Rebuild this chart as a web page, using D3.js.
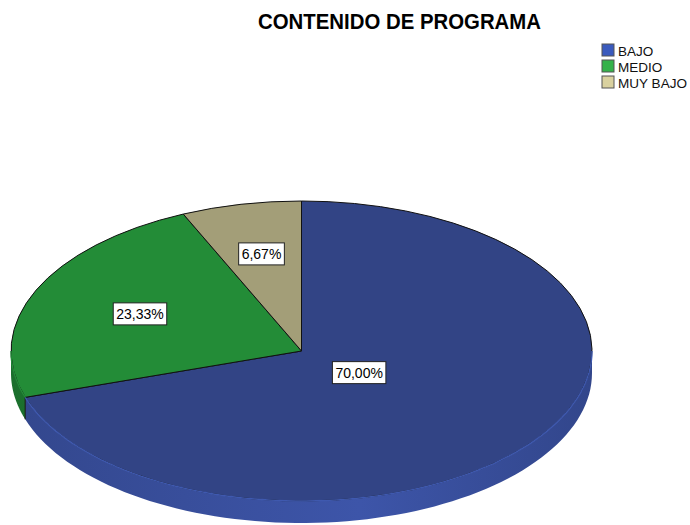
<!DOCTYPE html>
<html>
<head>
<meta charset="utf-8">
<script src="https://cdn.jsdelivr.net/npm/d3@7"></script>
<style>
  body { margin: 0; background: #fff; }
  svg { display: block; font-family: "Liberation Sans", Arial, sans-serif; }
</style>
</head>
<body>
<svg id="canvas" width="690" height="525"></svg>
<script>
let categories = ['BAJO', 'MEDIO', 'MUY BAJO'];
let percents = [70.00, 23.33, 6.67];
let percentLabels = ['70,00%', '23,33%', '6,67%'];
let topColors = ['#324485', '#238c37', '#a39e78'];
let sideColors = ['#3a51a0', '#1f7e33', '#8f8a66'];
let legendColors = ['#3a5abd', '#35b24a', '#d9d19f'];

let canvas = d3.select('#canvas');

let cx = 301.5, cy = 351, rx = 290.5, ry = 150, depth = 22;

let pie = d3.pie().sort(null).value((d) => d.value);
let slices = pie(categories.map((c, i) => ({ name: c, value: percents[i], label: percentLabels[i], i: i })));

let pt = (a, dy) => [cx + rx * Math.sin(a), cy - ry * Math.cos(a) + (dy || 0)];

// gradients for the side
let defs = canvas.append('defs');
slices.forEach((s) => {
	let g = defs.append('linearGradient')
		.attr('id', 'side' + s.data.i)
		.attr('gradientUnits', 'userSpaceOnUse')
		.attr('x1', cx - rx).attr('x2', cx + rx).attr('y1', 0).attr('y2', 0);
	let base = d3.color(sideColors[s.data.i]);
	g.append('stop').attr('offset', 0).attr('stop-color', base.darker(0.35));
	g.append('stop').attr('offset', 0.6).attr('stop-color', base.brighter(0.15));
	g.append('stop').attr('offset', 1).attr('stop-color', base.darker(0.4));
});

// side walls (front half only)
let sideG = canvas.append('g');
let frontArcs = [];
slices.forEach((s) => {
	let a0 = Math.max(s.startAngle, Math.PI / 2);
	let a1 = Math.min(s.endAngle, 3 * Math.PI / 2);
	if (a1 <= a0) return;
	let n = 80;
	let top = d3.range(n + 1).map((k) => pt(a0 + (a1 - a0) * k / n, 0));
	let bot = d3.range(n + 1).map((k) => pt(a1 - (a1 - a0) * k / n, depth));
	frontArcs.push({ pts: top, i: s.data.i });
	sideG.append('path')
		.attr('d', d3.line()(top.concat(bot)) + 'Z')
		.attr('fill', 'url(#side' + s.data.i + ')');
	// vertical seam where slices meet on the wall
	if (s.startAngle > Math.PI / 2 && s.startAngle < 3 * Math.PI / 2) {
		let p = pt(s.startAngle, 0);
		sideG.append('line')
			.attr('x1', p[0]).attr('y1', p[1]).attr('x2', p[0]).attr('y2', p[1] + depth)
			.attr('stroke', '#111').attr('stroke-width', 1);
	}
});

// top faces
let arc = d3.arc().innerRadius(0).outerRadius(1);
let topG = canvas.append('g').attr('transform', `translate(${cx},${cy}) scale(${rx},${ry})`);
topG.selectAll('path')
	.data(slices)
	.enter()
	.append('path')
	.attr('d', arc)
	.attr('fill', (s) => topColors[s.data.i])
	.attr('stroke', '#111')
	.attr('stroke-width', 1)
	.attr('vector-effect', 'non-scaling-stroke');

// soft front rim instead of a dark outline
frontArcs.forEach((f) => {
	canvas.append('path')
		.attr('d', d3.line()(f.pts))
		.attr('fill', 'none')
		.attr('stroke', d3.color(sideColors[f.i]).brighter(0.25))
		.attr('stroke-width', 1.4);
});

// value labels at the sector centroid
slices.forEach((s) => {
	let theta = s.endAngle - s.startAngle;
	let mid = (s.startAngle + s.endAngle) / 2;
	let f = 2 * Math.sin(theta / 2) / (3 * theta / 2);
	let x = cx + rx * f * Math.sin(mid);
	let y = cy - ry * f * Math.cos(mid);
	let g = canvas.append('g');
	let t = g.append('text')
		.attr('x', x).attr('y', y + 5)
		.attr('text-anchor', 'middle')
		.attr('font-size', 14)
		.attr('fill', '#000')
		.text(s.data.label);
	let bb = t.node().getBBox();
	g.insert('rect', 'text')
		.attr('x', bb.x - 3).attr('y', y - 11)
		.attr('width', bb.width + 6).attr('height', 22)
		.attr('fill', '#fff')
		.attr('stroke', '#222')
		.attr('stroke-width', 1);
});

// title
canvas.append('text')
	.attr('x', 258).attr('y', 29)
	.attr('font-size', 21.5)
	.attr('font-weight', 'bold')
	.attr('textLength', 283)
	.attr('lengthAdjust', 'spacingAndGlyphs')
	.text('CONTENIDO DE PROGRAMA');

// legend
let legend = canvas.append('g').attr('transform', 'translate(602,44)');
categories.forEach((c, i) => {
	legend.append('rect')
		.attr('x', 0).attr('y', i * 16)
		.attr('width', 12).attr('height', 12)
		.attr('fill', legendColors[i])
		.attr('stroke', '#555')
		.attr('stroke-width', 1);
	legend.append('text')
		.attr('x', 16).attr('y', i * 16 + 12)
		.attr('font-size', 13.5)
		.attr('textLength', c.length > 5 ? 69 : null)
		.attr('lengthAdjust', 'spacingAndGlyphs')
		.attr('fill', '#111')
		.text(c);
});
</script>
</body>
</html>
